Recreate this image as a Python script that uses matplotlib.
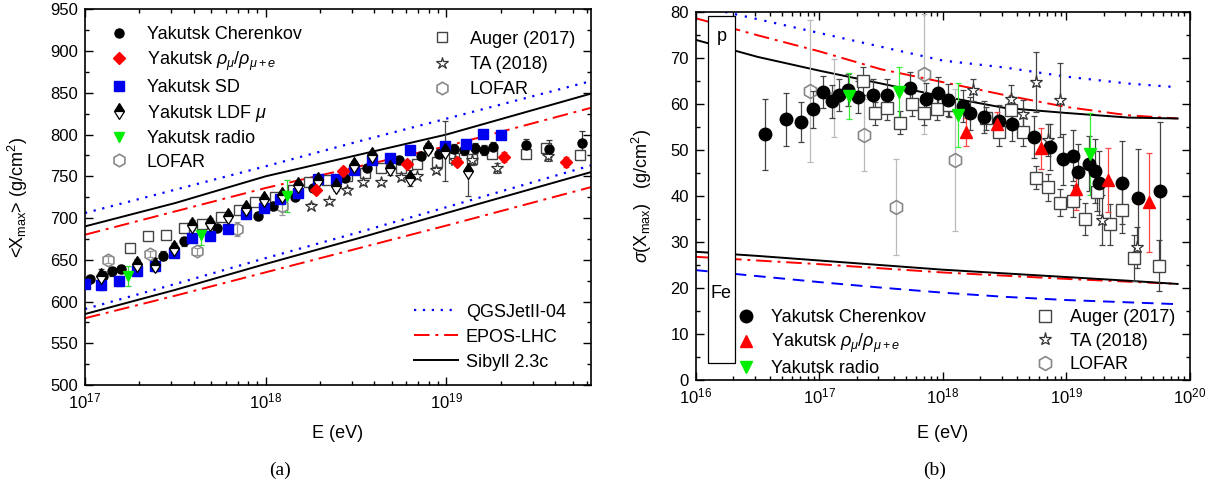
import numpy as np
import matplotlib
matplotlib.use("Agg")
from matplotlib import pyplot as plt
from matplotlib.ticker import MultipleLocator, LogLocator, NullFormatter
from matplotlib.patches import Rectangle

plt.rcParams['font.family'] = ['Liberation Sans', 'DejaVu Sans']
plt.rcParams['mathtext.fontset'] = 'custom'
plt.rcParams['mathtext.rm'] = 'Liberation Sans'
plt.rcParams['mathtext.it'] = 'Liberation Sans:italic'
plt.rcParams['font.size'] = 13

# ---------------- (a) <Xmax> vs E, values as log10(E/eV) ----------------
cher_a_lg = [17.03, 17.10, 17.15, 17.20, 17.29, 17.43, 17.55, 17.73, 17.96, 18.04, 18.16, 18.26, 18.44, 18.56,
             18.59, 18.74, 18.86, 18.90, 18.96, 19.04, 19.10, 19.16, 19.21, 19.26, 19.44, 19.57, 19.75]
cher_a_x = [627, 631, 636, 639, 643, 655, 672, 688, 703, 714, 725, 736, 748, 760,
            774, 769, 774, 784, 777, 783, 782, 784, 782, 785, 787, 783, 790]
cher_a_err = [4, 6, 5, 5, 5, 5, 5, 4, 4, 4, 4, 4, 4, 4, 5, 5, 5, 6, 6, 6, 6, 6, 6, 6, 8, 10, 14]

rho_a_lg = [18.28, 18.43, 18.78, 19.06, 19.32, 19.66]
rho_a_x = [734, 756, 765, 767, 773, 767]
rho_a_err = [4, 4, 5, 5, 6, 6]

sd_a_lg = [17.0, 17.09, 17.19, 17.29, 17.39, 17.49, 17.59, 17.69, 17.79, 17.89, 17.99, 18.08,
           18.18, 18.29, 18.39, 18.49, 18.59, 18.69, 18.80, 18.99, 19.11, 19.20, 19.30]
sd_a_x = [621, 620, 625, 637, 643, 658, 676, 678, 687, 705, 712, 723,
          730, 747, 747, 757, 770, 772, 781, 786, 789, 801, 800]
sd_a_err = [5, 6, 6, 6, 6, 5, 4, 4, 4, 4, 4, 4, 4, 4, 4, 4, 4, 4, 4, 4, 4, 5, 5]

ldf_a_lg = [17.09, 17.29, 17.39, 17.49, 17.59, 17.69, 17.79, 17.89, 17.99, 18.09,
            18.18, 18.29, 18.39, 18.49, 18.59, 18.69, 18.80, 18.90, 18.99, 19.12]
ldf_a_x = [631, 645, 644, 664, 692, 694, 702, 712, 723, 727,
           739, 746, 738, 763, 775, 760, 748, 784, 780, 756]
ldf_a_err = [8, 6, 8, 6, 6, 6, 5, 5, 5, 5, 5, 5, 6, 5, 5, 8, 10, 6, 36, 30]

radio_a_lg = [17.24, 17.64, 18.12]
radio_a_x = [631, 680, 726]
radio_a_err = [12, 12, 19]

auger_a_lg = [17.25, 17.35, 17.45, 17.55, 17.65, 17.75, 17.85, 17.94, 18.05, 18.15, 18.24, 18.34,
              18.45, 18.55, 18.64, 18.75, 18.84, 18.95, 19.04, 19.14, 19.25, 19.44, 19.55, 19.74]
auger_a_x = [664, 678, 680, 688, 693, 701, 710, 719, 725, 733, 743, 746,
             750, 754, 760, 760, 765, 767, 772, 771, 777, 777, 784, 776]
auger_a_err = [3, 3, 3, 3, 3, 3, 3, 3, 3, 3, 3, 3, 3, 3, 3, 3, 3, 3, 4, 4, 4, 4, 5, 5]

ta_a_lg = [18.25, 18.35, 18.45, 18.54, 18.64, 18.75, 18.84, 18.94, 19.05, 19.14, 19.28, 19.56]
ta_a_x = [715, 720, 734, 743, 743, 749, 750, 758, 770, 770, 760, 774]
ta_a_err = [3, 3, 3, 3, 3, 3, 3, 4, 5, 6, 6, 6]

lofar_a_lg = [17.13, 17.36, 17.62, 17.84, 18.09]
lofar_a_x = [650, 657, 660, 687, 714]
lofar_a_err = [4, 4, 4, 8, 10]

model_a_lg = [17.0, 17.5, 18.0, 18.5, 19.0, 19.8]
qgs_p_a = [706, 734, 762, 791, 819, 864]
sib_p_a = [690, 718, 750, 775, 800, 849]
epos_p_a = [680, 708, 736, 761, 786, 832]
qgs_fe_a = [591, 621, 652, 682, 713, 763]
sib_fe_a = [585, 614, 645, 675, 706, 755]
epos_fe_a = [580, 607, 635, 663, 691, 737]

# ---------------- (b) sigma(Xmax) vs E ----------------
cher_b_lg = [16.56, 16.73, 16.85, 16.95, 17.03, 17.10, 17.16, 17.23, 17.31, 17.43, 17.55, 17.73, 17.86, 17.96,
             18.04, 18.16, 18.22, 18.33, 18.45, 18.56, 18.74, 18.87, 18.97, 19.05, 19.09, 19.18, 19.23, 19.26,
             19.45, 19.58, 19.76]
cher_b_s = [53.5, 56.7, 56.1, 58.9, 62.7, 60.6, 62.1, 63.1, 61.6, 62.1, 62.1, 63.5, 61.1, 62.4,
            60.9, 59.6, 58.0, 57.3, 56.4, 55.6, 52.9, 50.8, 48.0, 48.8, 45.3, 47.1, 45.5, 42.9,
            42.9, 39.7, 41.1]
cher_b_err = [7.7, 5.7, 4.3, 4, 3.5, 3.5, 3.5, 3.5, 3.5, 3.5, 3.5, 3.5, 3.5, 3.5,
              3.5, 3.5, 3.5, 3.5, 3.5, 3.5, 4.5, 5, 5.5, 5.5, 6, 6, 7, 7, 9, 10.5, 15]

rho_b_lg = [18.19, 18.44, 18.79, 19.08, 19.34, 19.67]
rho_b_s = [54.0, 55.8, 50.4, 41.5, 43.5, 38.7]
rho_b_err = [3, 2.5, 4.5, 4.5, 7, 10.8]

radio_b_lg = [17.24, 17.64, 18.12, 19.19]
radio_b_s = [61.8, 62.7, 57.6, 49.2]
radio_b_err = [5, 5.5, 7, 9]

auger_b_lg = [17.35, 17.45, 17.55, 17.65, 17.75, 17.85, 17.95, 18.05, 18.35, 18.45, 18.55,
              18.65, 18.75, 18.85, 18.95, 19.05, 19.15, 19.25, 19.35, 19.45, 19.55, 19.75]
auger_b_s = [65.0, 58.0, 59.1, 56.0, 60.0, 58.0, 59.0, 59.8, 56.9, 54.0, 58.7,
             54.0, 44.0, 41.9, 38.6, 38.9, 35.0, 40.8, 33.9, 37.0, 26.5, 24.9]
auger_b_err = [3, 2.5, 2.5, 2.5, 2.5, 2.5, 2.5, 2.5, 2.5, 3, 3,
               3, 2.5, 3, 3, 3.5, 3.5, 4, 4.5, 5, 5, 5.5]

ta_b_lg = [18.24, 18.55, 18.65, 18.75, 18.85, 18.95, 19.29, 19.57]
ta_b_s = [63.1, 61.1, 57.9, 64.9, 52.2, 60.9, 34.8, 28.9]
ta_b_err = [2.5, 3, 3, 6.5, 3.5, 8, 5.5, 4.5]

lofar_b_lg = [16.92, 17.12, 17.36, 17.62, 17.85, 18.10]
lofar_b_s = [62.9, 61.3, 53.3, 37.6, 66.6, 47.9]
lofar_b_err = [15.5, 8.5, 7.9, 10.5, 13, 15.5]

model_b_lg = [16.0, 16.5, 17.0, 17.5, 18.0, 18.5, 19.0, 19.5, 19.9]
qgs_p_b = [81.5, 78.5, 75.5, 72.5, 69.5, 68.0, 66.0, 64.5, 63.7]
epos_p_b = [78.7, 75.0, 71.5, 67.6, 64.8, 62.0, 59.4, 57.6, 56.9]
sib_p_b = [74.0, 70.3, 67.3, 64.5, 61.7, 59.2, 58.1, 57.1, 56.9]
qgs_fe_b = [23.9, 22.6, 21.3, 20.1, 19.0, 18.1, 17.4, 16.9, 16.5]
epos_fe_b = [26.8, 26.0, 25.2, 24.3, 23.4, 22.7, 22.0, 21.4, 20.9]
sib_fe_b = [27.9, 27.0, 26.0, 25.0, 24.0, 23.2, 22.4, 21.6, 20.9]

# p / Fe band box: log10 E range and sigma range
pfe_box = (16.097, 16.316, 3.8, 79.3)


def E(lg):
    return 10 ** np.asarray(lg)


def pts(ax, lg, y, err, ecol, **kw):
    ax.errorbar(E(lg), y, yerr=err, fmt='none', ecolor=ecol, elinewidth=0.9, capsize=2.5,
                capthick=0.9, zorder=2)
    return ax.plot(E(lg), y, linestyle='none', **kw)[0]


def style_axis(ax):
    ax.set_xscale('log')
    ax.xaxis.set_major_locator(LogLocator(base=10, numticks=10))
    ax.xaxis.set_minor_locator(LogLocator(base=10, subs=np.arange(2, 10), numticks=20))
    ax.xaxis.set_minor_formatter(NullFormatter())
    ax.tick_params(which='both', direction='in', top=True, right=True, width=1.0)
    ax.tick_params(which='major', length=6, labelsize=12, pad=5)
    ax.tick_params(which='minor', length=3)
    for s in ax.spines.values():
        s.set_linewidth(1.2)


fig = plt.figure(figsize=(12.21, 4.95), dpi=100)
ax1 = fig.add_axes([0.0696, 0.2222, 0.4144, 0.759])
ax2 = fig.add_axes([0.570, 0.2323, 0.4046, 0.7428])

dashdot = (0, (8, 3, 1.5, 3))

# ---- panel (a)
m = E(model_a_lg)
ax1.plot(m, qgs_p_a, color='blue', ls=(0, (1, 3)), lw=1.6)
ax1.plot(m, epos_p_a, color='red', ls=dashdot, lw=1.4)
ax1.plot(m, sib_p_a, color='black', lw=1.4)
lq, = ax1.plot(m, qgs_fe_a, color='blue', ls=(0, (1, 3)), lw=1.6, label='QGSJetII-04')
le, = ax1.plot(m, epos_fe_a, color='red', ls=dashdot, lw=1.4, label='EPOS-LHC')
ls_, = ax1.plot(m, sib_fe_a, color='black', lw=1.4, label='Sibyll 2.3c')

hl = pts(ax1, lofar_a_lg, lofar_a_x, lofar_a_err, '#999999', marker='h', ms=9, mfc='none', mec='#888888',
         mew=1.2, label='LOFAR', zorder=3)
ha = pts(ax1, auger_a_lg, auger_a_x, auger_a_err, '#444444', marker='s', ms=7, mfc='white', mec='#444444',
         mew=1.0, label='Auger (2017)', zorder=3)
ht = pts(ax1, ta_a_lg, ta_a_x, ta_a_err, '#444444', marker='*', ms=9, mfc='white', mec='#333333',
         mew=0.9, label='TA (2018)', zorder=3)
hc = pts(ax1, cher_a_lg, cher_a_x, cher_a_err, '#333333', marker='o', ms=6.5, color='black',
         label='Yakutsk Cherenkov', zorder=4)
hs = pts(ax1, sd_a_lg, sd_a_x, sd_a_err, '#4444ff', marker='s', ms=6.5, color='#0000ee',
         label='Yakutsk SD', zorder=5)
hd = pts(ax1, ldf_a_lg, ldf_a_x, ldf_a_err, '#444444', marker='d', ms=8, color='black', fillstyle='top',
         markerfacecoloralt='white', mew=0.9, label=r'Yakutsk LDF $\mu$', zorder=6)
hr = pts(ax1, rho_a_lg, rho_a_x, rho_a_err, '#ff3333', marker='D', ms=6.5, color='red',
         label=r'Yakutsk $\rho_{\mu}/\rho_{\mu+e}$', zorder=6)
hg = pts(ax1, radio_a_lg, radio_a_x, radio_a_err, '#33dd33', marker='v', ms=7.5, color='#00ee00',
         label='Yakutsk radio', zorder=6)

ax1.set_xlim(1e17, 10 ** 19.8)
ax1.set_ylim(500, 950)
style_axis(ax1)
ax1.yaxis.set_major_locator(MultipleLocator(50))
ax1.yaxis.set_minor_locator(MultipleLocator(25))
ax1.set_xlabel('E (eV)', fontsize=13)
ax1.xaxis.set_label_coords(0.5, -0.106)
ax1.set_ylabel(r'<X$_{\mathrm{max}}$> (g/cm$^2$)', fontsize=13)
ax1.yaxis.set_label_coords(-0.109, 0.5)

leg_kw = dict(frameon=False, fontsize=13, borderaxespad=0, borderpad=0.4)
leg1 = ax1.legend(handles=[hc, hr, hs, hd, hg, hl], loc='upper left', bbox_to_anchor=(0.036, 0.975),
                  handlelength=1.0, handletextpad=1.0, labelspacing=0.36, **leg_kw)
ax1.add_artist(leg1)
leg2 = ax1.legend(handles=[ha, ht, hl], loc='upper left', bbox_to_anchor=(0.6735, 0.962),
                  handlelength=1.0, handletextpad=1.05, labelspacing=0.45, **leg_kw)
ax1.add_artist(leg2)
ax1.legend(handles=[lq, le, ls_], loc='upper left', bbox_to_anchor=(0.635, 0.236),
           handlelength=2.46, handletextpad=0.44, labelspacing=0.45, **leg_kw)

# ---- panel (b)
m = E(model_b_lg)
ax2.plot(m, qgs_p_b, color='blue', ls=(0, (1, 3.5)), lw=1.6, zorder=1)
ax2.plot(m, epos_p_b, color='red', ls=dashdot, lw=1.4, zorder=1)
ax2.plot(m, sib_p_b, color='black', lw=1.4, zorder=1)
ax2.plot(m, qgs_fe_b, color='blue', ls=(0, (6, 4)), lw=1.4, zorder=1)
ax2.plot(m, epos_fe_b, color='red', ls=dashdot, lw=1.4, zorder=1)
ax2.plot(m, sib_fe_b, color='black', lw=1.4, zorder=1)

b0, b1, s0, s1 = pfe_box
ax2.add_patch(Rectangle((E(b0), s0), E(b1) - E(b0), s1 - s0, facecolor='white', edgecolor='black',
                        lw=0.9, zorder=1.5))
bc_x = E((b0 + b1) / 2)
ax2.text(bc_x, 74.7, 'p', fontsize=13, ha='center', va='center', zorder=2)
ax2.text(bc_x, 18.9, 'Fe', fontsize=13, ha='center', va='center', zorder=2)

bl = pts(ax2, lofar_b_lg, lofar_b_s, lofar_b_err, '#bbbbbb', marker='h', ms=10, mfc='none', mec='#888888',
         mew=1.2, label='LOFAR', zorder=3)
ba = pts(ax2, auger_b_lg, auger_b_s, auger_b_err, '#444444', marker='s', ms=8.5, mfc='white', mec='#444444',
         mew=1.0, label='Auger (2017)', zorder=3)
bt = pts(ax2, ta_b_lg, ta_b_s, ta_b_err, '#444444', marker='*', ms=9.5, mfc='white', mec='#333333',
         mew=0.9, label='TA (2018)', zorder=3)
bc = pts(ax2, cher_b_lg, cher_b_s, cher_b_err, '#444444', marker='o', ms=9, color='black',
         label='Yakutsk Cherenkov', zorder=4)
br = pts(ax2, rho_b_lg, rho_b_s, rho_b_err, '#ff4444', marker='^', ms=8.5, color='red',
         label=r'Yakutsk $\rho_{\mu}/\rho_{\mu+e}$', zorder=5)
bg = pts(ax2, radio_b_lg, radio_b_s, radio_b_err, '#33ee33', marker='v', ms=8.5, color='#00ee00',
         label='Yakutsk radio', zorder=5)

ax2.set_xlim(1e16, 1e20)
ax2.set_ylim(0, 80)
style_axis(ax2)
ax2.yaxis.set_major_locator(MultipleLocator(10))
ax2.yaxis.set_minor_locator(MultipleLocator(5))
ax2.set_xlabel('E (eV)', fontsize=13)
ax2.xaxis.set_label_coords(0.5, -0.122)
ax2.set_ylabel(r'$\sigma$(X$_{\mathrm{max}}$)   (g/cm$^2$)', fontsize=13)
ax2.yaxis.set_label_coords(-0.085, 0.5)

leg3 = ax2.legend(handles=[bc, br, bg], loc='upper left', bbox_to_anchor=(0.0674, 0.212),
                  handlelength=1.0, handletextpad=0.91, labelspacing=0.3, **leg_kw)
ax2.add_artist(leg3)
ax2.legend(handles=[ba, bt, bl], loc='upper left', bbox_to_anchor=(0.6727, 0.212),
           handlelength=1.0, handletextpad=0.9, labelspacing=0.36, **leg_kw)

serif = ['Liberation Serif', 'DejaVu Serif']
fig.text(280 / 1221, 1 - 470 / 495, '(a)', fontsize=14, ha='center', va='center', family=serif)
fig.text(935 / 1221, 1 - 470 / 495, '(b)', fontsize=14, ha='center', va='center', family=serif)

fig.savefig('out.png', dpi=100)
